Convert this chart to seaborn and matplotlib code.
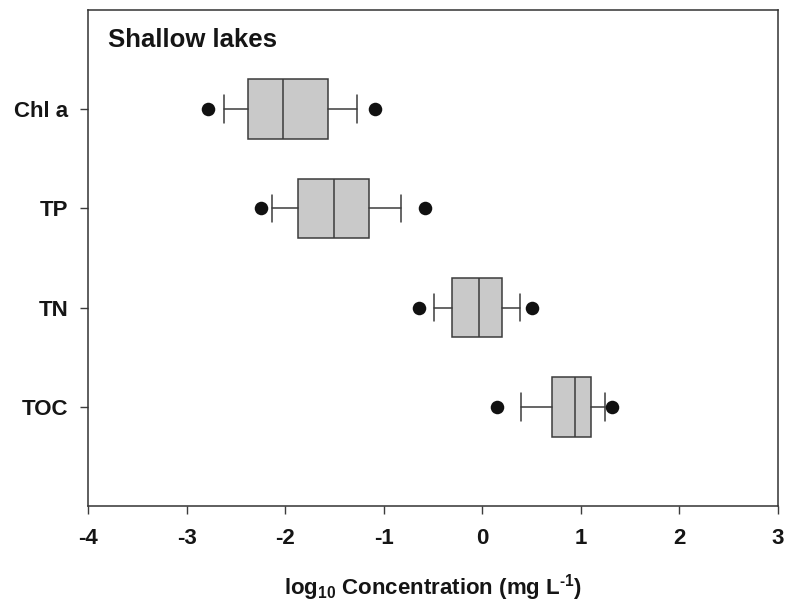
import matplotlib
matplotlib.use("Agg")
import matplotlib.pyplot as plt
import seaborn as sns
import pandas as pd

# ---- data ----
categories = ["Chl a", "TP", "TN", "TOC"]
p5 = [-2.78, -2.24, -0.64, 0.145]
p10 = [-2.62, -2.13, -0.49, 0.39]
q1 = [-2.38, -1.87, -0.31, 0.71]
median = [-2.02, -1.50, -0.03, 0.94]
q3 = [-1.57, -1.15, 0.20, 1.10]
p90 = [-1.27, -0.82, 0.38, 1.24]
p95 = [-1.09, -0.58, 0.50, 1.32]
x_ticks = [-4, -3, -2, -1, 0, 1, 2, 3]
title_text = "Shallow lakes"
x_label = r"log$_{10}$ Concentration (mg L$^{\text{-1}}$)"

sns.set_style("ticks")
plt.rcParams["font.family"] = ["Liberation Sans", "DejaVu Sans"]
plt.rcParams["font.weight"] = "bold"
plt.rcParams["mathtext.fontset"] = "custom"
plt.rcParams["mathtext.rm"] = "Liberation Sans:bold"
plt.rcParams["mathtext.it"] = "Liberation Sans:bold"
plt.rcParams["mathtext.bf"] = "Liberation Sans:bold"
plt.rcParams["mathtext.default"] = "rm"
txt = "#151515"
plt.rcParams["text.color"] = txt
plt.rcParams["axes.labelcolor"] = txt
plt.rcParams["xtick.labelcolor"] = txt
plt.rcParams["ytick.labelcolor"] = txt

edge = "#3c3c3c"
fig = plt.figure(figsize=(7.89, 6.06), dpi=100)
ax = fig.add_axes([88 / 789, 1 - 506 / 606, 690 / 789, 496 / 606])

stats = []
for i, c in enumerate(categories):
    stats.append(dict(label=c, whislo=p10[i], q1=q1[i], med=median[i],
                      q3=q3[i], whishi=p90[i], fliers=[]))
positions = list(range(len(categories)))
ax.bxp(stats, positions=positions, orientation="horizontal", widths=0.6,
       capwidths=0.28, patch_artist=True, showfliers=False,
       boxprops=dict(facecolor="#c9c9c9", edgecolor=edge, linewidth=1.1),
       medianprops=dict(color=edge, linewidth=1.1),
       whiskerprops=dict(color=edge, linewidth=1.1),
       capprops=dict(color=edge, linewidth=1.1))

pts = pd.DataFrame({
    "value": p5 + p95,
    "pos": positions + positions,
})
sns.scatterplot(data=pts, x="value", y="pos", color="#111111", s=95,
                edgecolor="#111111", linewidth=0, ax=ax, zorder=5)

ax.set_xlim(-4, 3)
ax.set_ylim(4, -1)
ax.set_xticks(x_ticks)
ax.set_xticklabels([str(t) for t in x_ticks])
ax.set_yticks(positions)
ax.set_yticklabels(categories)
ax.set_ylabel("")
ax.set_xlabel(x_label, fontsize=16, fontweight="bold", labelpad=17)
ax.tick_params(axis="both", labelsize=16, length=5.6, width=1.0,
               color=edge, direction="out")
ax.tick_params(axis="y", pad=8.6)
ax.tick_params(axis="x", pad=10)
for lab in ax.get_xticklabels() + ax.get_yticklabels():
    lab.set_fontweight("bold")
for s in ax.spines.values():
    s.set_visible(True)
    s.set_color("#333333")
    s.set_linewidth(1.1)

ax.text(20 / 690, 1 - 36.7 / 496, title_text, transform=ax.transAxes,
        fontsize=18.5, fontweight="bold", ha="left", va="baseline")

fig.savefig("out.png", dpi=100)
